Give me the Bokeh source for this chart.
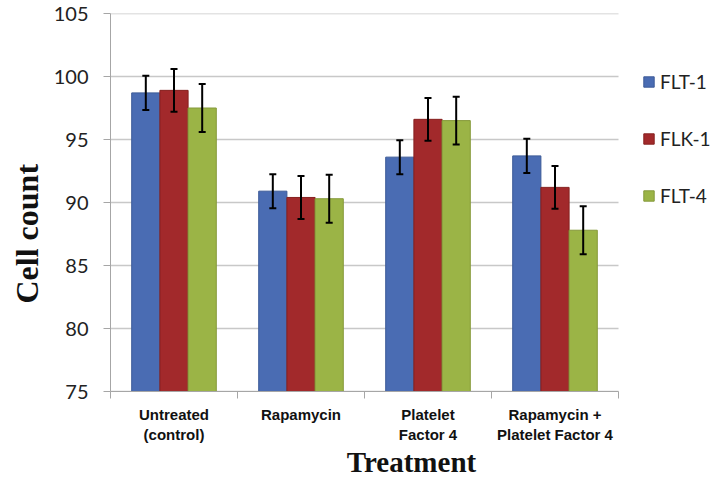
import math
from bokeh.plotting import figure
from bokeh.models import (Range1d, FixedTicker, ColumnDataSource, Whisker, TeeHead,
                          Legend, LegendItem, Title)
from bokeh.embed import file_html
from bokeh.resources import INLINE

# ---- data ----
categories = ["Untreated\n(control)", "Rapamycin", "Platelet\nFactor 4",
              "Rapamycin +\nPlatelet Factor 4"]
series_names = ["FLT-1", "FLK-1", "FLT-4"]
flt1 = [98.7, 90.9, 93.6, 93.7]
flk1 = [98.9, 90.4, 96.6, 91.2]
flt4 = [97.5, 90.3, 96.5, 87.8]
flt1_err = [1.35, 1.35, 1.35, 1.35]
flk1_err = [1.7, 1.7, 1.7, 1.7]
flt4_err = [1.9, 1.9, 1.9, 1.9]
y_ticks = [75, 80, 85, 90, 95, 100, 105]

colors = ["#4a6cb3", "#a2292b", "#9bb446"]
edge_colors = ["#3c5a97", "#86201f", "#85993a"]
offsets = [-0.222, 0.0, 0.222]
bar_w = 0.222
n = len(categories)
x_end = n * 602 / 508  # frame extends to the right to host the legend

p = figure(width=712, height=480, output_backend="svg", toolbar_location=None,
           x_range=Range1d(0, x_end), y_range=Range1d(75, 105),
           min_border_left=110, min_border_right=0, min_border_top=13,
           min_border_bottom=88)
p.outline_line_color = None
p.xgrid.grid_line_color = None
p.ygrid.grid_line_color = None

# horizontal gridlines limited to the category area
p.segment(x0=0, x1=n, y0=y_ticks, y1=y_ticks, line_color="#c8c8c8",
          line_width=1.5, level="underlay")

vals = [flt1, flk1, flt4]
errs = [flt1_err, flk1_err, flt4_err]
items = []
for k, name in enumerate(series_names):
    xs = [i + 0.5 + offsets[k] for i in range(n)]
    src = ColumnDataSource(dict(
        x=xs, top=vals[k],
        upper=[v + e for v, e in zip(vals[k], errs[k])],
        lower=[v - e for v, e in zip(vals[k], errs[k])]))
    r = p.vbar(x="x", top="top", bottom=75, width=bar_w, source=src,
               fill_color=colors[k], line_color=edge_colors[k], line_width=1)
    items.append(LegendItem(label=name, renderers=[r]))
    w = Whisker(source=src, base="x", upper="upper", lower="lower",
                dimension="height", line_width=2, line_color="black",
                level="overlay",
                upper_head=TeeHead(size=7, line_width=2, line_color="black"),
                lower_head=TeeHead(size=7, line_width=2, line_color="black"))
    p.add_layout(w)

# y axis
ya = p.yaxis[0]
ya.ticker = FixedTicker(ticks=y_ticks)
ya.axis_line_color = "#a6a6a6"
ya.major_tick_line_color = "#a6a6a6"
ya.major_tick_out = 7
ya.major_tick_in = 0
ya.minor_tick_line_color = None
ya.major_label_standoff = 15
ya.major_label_text_font = "Lato"
ya.major_label_text_font_size = "20px"
ya.major_label_text_color = "#222222"

# x axis
xa = p.xaxis[0]
xa.bounds = (0, n)
xa.ticker = FixedTicker(ticks=[i + 0.5 for i in range(n)],
                        minor_ticks=list(range(n + 1)))
xa.major_label_overrides = {i + 0.5: c for i, c in enumerate(categories)}
xa.axis_line_color = "#a6a6a6"
xa.major_tick_out = 0
xa.major_tick_in = 0
xa.minor_tick_out = 7
xa.minor_tick_in = 0
xa.minor_tick_line_color = "#a6a6a6"
xa.major_label_standoff = 7
xa.major_label_text_font = "Liberation Sans"
xa.major_label_text_font_style = "bold"
xa.major_label_text_font_size = "15px"
xa.major_label_text_color = "#111111"
xa.axis_label = "Treatment"
xa.axis_label_text_font = "Liberation Serif"
xa.axis_label_text_font_style = "bold"
xa.axis_label_text_font_size = "29px"
xa.axis_label_text_color = "#111111"
xa.axis_label_standoff = 0

ytitle = Title(text="Cell count", align="left", offset=88, standoff=12,
               text_font="Liberation Serif", text_font_style="bold",
               text_font_size="32px", text_color="#111111")
p.add_layout(ytitle, "left")

legend = Legend(items=items, location=(532, 184), padding=0, spacing=34,
                glyph_width=13, glyph_height=13, label_height=20,
                label_standoff=5, border_line_color=None,
                background_fill_alpha=0, label_text_font="Lato",
                label_text_font_size="19px", label_text_color="#222222")
p.add_layout(legend)

open("out.html", "w").write(file_html(p, INLINE))
